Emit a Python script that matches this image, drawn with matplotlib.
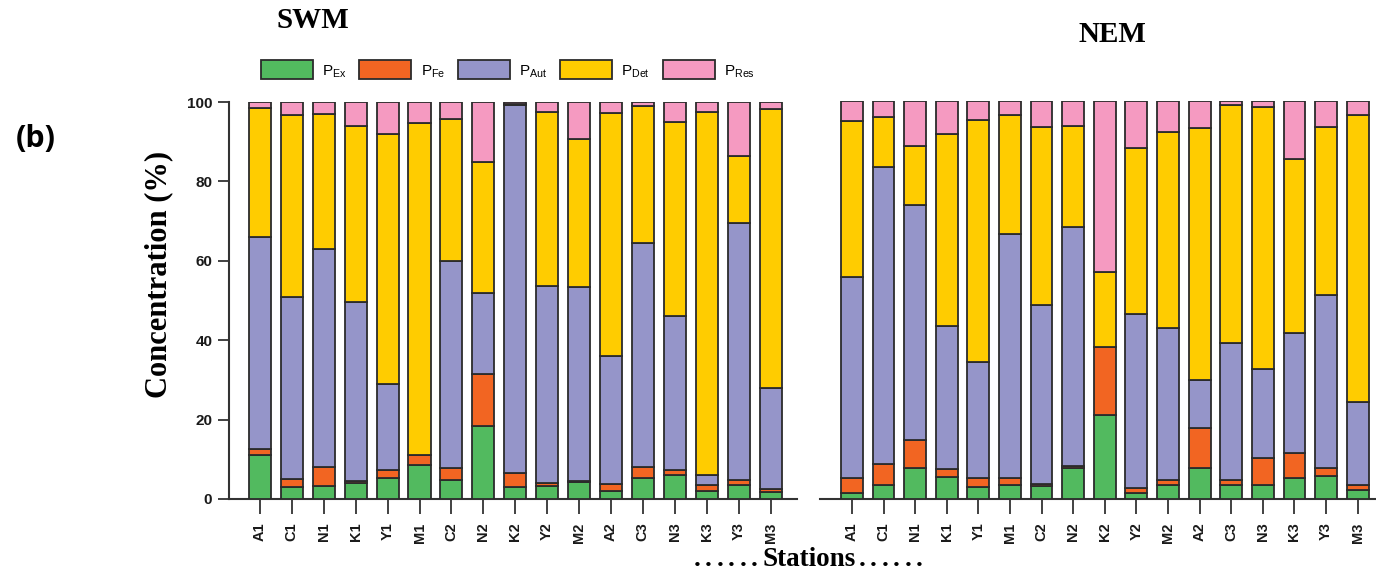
import matplotlib
matplotlib.use("Agg")
import matplotlib.pyplot as plt
import numpy as np
from matplotlib.patches import Patch

stations = ["A1", "C1", "N1", "K1", "Y1", "M1", "C2", "N2", "K2",
            "Y2", "M2", "A2", "C3", "N3", "K3", "Y3", "M3"]
fractions = ["P$_{\\mathregular{Ex}}$", "P$_{\\mathregular{Fe}}$", "P$_{\\mathregular{Aut}}$",
             "P$_{\\mathregular{Det}}$", "P$_{\\mathregular{Res}}$"]
colors = ["#52BA5F", "#F26522", "#9595C9", "#FFCC00", "#F59AC1"]

# SWM (%)
swm_ex  = [11.2, 3.0, 3.2, 4.0, 5.3, 8.5, 4.9, 18.5, 2.9, 3.2, 4.4, 2.1, 5.3, 6.0, 2.1, 3.5, 1.8]
swm_fe  = [1.3, 2.1, 4.8, 0.5, 2.1, 2.5, 2.9, 12.9, 3.7, 0.8, 0.2, 1.7, 2.7, 1.4, 1.4, 1.4, 0.6]
swm_aut = [53.4, 45.7, 55.0, 45.0, 21.5, 0.2, 52.2, 20.6, 92.6, 49.7, 48.9, 32.2, 56.4, 38.6, 2.5, 64.5, 25.6]
swm_det = [32.7, 45.8, 34.0, 44.4, 63.1, 83.6, 35.8, 33.0, 0.2, 43.9, 37.1, 61.2, 34.5, 49.0, 91.5, 16.9, 70.3]
swm_res = [1.4, 3.4, 3.0, 6.1, 8.0, 5.2, 4.2, 15.0, 0.6, 2.4, 9.4, 2.8, 1.1, 5.0, 2.5, 13.7, 1.7]

# NEM (%)
nem_ex  = [1.5, 3.6, 7.8, 5.5, 3.0, 3.4, 3.3, 7.8, 21.1, 1.5, 3.6, 7.9, 3.4, 3.6, 5.3, 5.9, 2.3]
nem_fe  = [3.8, 5.2, 7.1, 2.0, 2.3, 1.9, 0.5, 0.4, 17.1, 1.3, 1.2, 9.9, 1.3, 6.8, 6.2, 2.0, 1.3]
nem_aut = [50.5, 74.7, 59.0, 36.0, 29.2, 61.3, 45.0, 60.1, 0.0, 43.8, 38.2, 12.1, 34.4, 22.2, 30.1, 43.3, 20.7]
nem_det = [39.2, 12.5, 14.7, 48.3, 60.7, 29.8, 44.7, 25.4, 18.8, 41.5, 49.1, 63.2, 59.8, 66.0, 43.8, 42.3, 72.1]
nem_res = [5.0, 4.0, 11.4, 8.2, 4.8, 3.6, 6.5, 6.3, 43.0, 11.9, 7.9, 6.9, 1.1, 1.4, 14.6, 6.5, 3.6]

swm = [swm_ex, swm_fe, swm_aut, swm_det, swm_res]
nem = [nem_ex, nem_fe, nem_aut, nem_det, nem_res]

W, H = 1376, 579
fig = plt.figure(figsize=(W / 100, H / 100), dpi=100)
fig.patch.set_facecolor("white")


def fx(px):
    return px / W


def fy(py):
    return 1 - py / H


ax1 = fig.add_axes([fx(229), fy(499), fx(797) - fx(229), fy(102) - fy(499)])
ax2 = fig.add_axes([fx(820), fy(499), 1 - fx(820), fy(101) - fy(499)])

edge = "#2b2b2b"
x = np.arange(len(stations))
for ax, data in [(ax1, swm), (ax2, nem)]:
    ax.patch.set_alpha(0)
    bottom = np.zeros(len(stations))
    for vals, c in zip(data, colors):
        v = np.array(vals)
        ax.bar(x, v, bottom=bottom, width=0.69, color=c, edgecolor=edge, linewidth=1.3, zorder=3)
        bottom += v
    ax.set_ylim(0, 100)
    ax.set_xticks(x)
    ax.set_xticklabels(stations, rotation=90, fontsize=10.5, fontweight="bold",
                       family="Liberation Sans", color="#1a1a1a")
    ax.tick_params(axis="x", length=11, width=1.3, color="#333333", pad=6)
    for s in ["top", "right"]:
        ax.spines[s].set_visible(False)
    ax.spines["bottom"].set_linewidth(1.5)
    ax.spines["bottom"].set_color("#333333")
    ax.spines["left"].set_linewidth(1.5)
    ax.spines["left"].set_color("#333333")

ax1.set_xlim(-0.97, 16.83)
ax2.set_xlim(-1.01, 16.58)

ax1.set_yticks([0, 20, 40, 60, 80, 100])
ax1.set_yticklabels(["0", "20", "40", "60", "80", "100"], fontsize=11, fontweight="bold",
                    family="Liberation Sans", color="#1a1a1a")
ax1.tick_params(axis="y", length=8, width=1.3, color="#333333", pad=4)

ax2.spines["left"].set_visible(False)
ax2.set_yticks([])

serif = "Liberation Serif"
fig.text(fx(159), fy(274), "Concentration (%)", rotation=90, ha="center", va="center",
         fontsize=22, fontweight="bold", family=serif)
fig.text(fx(313), fy(20), "SWM", ha="center", va="center", fontsize=21,
         fontweight="bold", family=serif)
fig.text(fx(1112), fy(35), "NEM", ha="center", va="center", fontsize=21,
         fontweight="bold", family=serif)

# "......Stations......" with widely spaced dots
fig.text(fx(809), fy(560), "Stations", ha="center", va="center", fontsize=19.5,
         fontweight="bold", family=serif)
for i in range(6):
    fig.text(fx(697 + 11.5 * i), fy(560), ".", ha="center", va="center", fontsize=19.5,
             fontweight="bold", family=serif)
    fig.text(fx(862 + 11.5 * i), fy(560), ".", ha="center", va="center", fontsize=19.5,
             fontweight="bold", family=serif)

fig.text(fx(36), fy(139), "(b)", ha="center", va="center", fontsize=22,
         fontweight="bold", family="Open Sans")

handles = [Patch(facecolor=c, edgecolor=edge, linewidth=1.3) for c in colors]
leg = fig.legend(handles, fractions, loc="center left", bbox_to_anchor=(fx(247), fy(70)),
                 ncol=5, frameon=False, handlelength=3.4, handleheight=1.5,
                 handletextpad=0.6, columnspacing=0.85,
                 prop={"family": "Liberation Sans", "size": 11})

fig.savefig("out.png", dpi=100, facecolor="white")
